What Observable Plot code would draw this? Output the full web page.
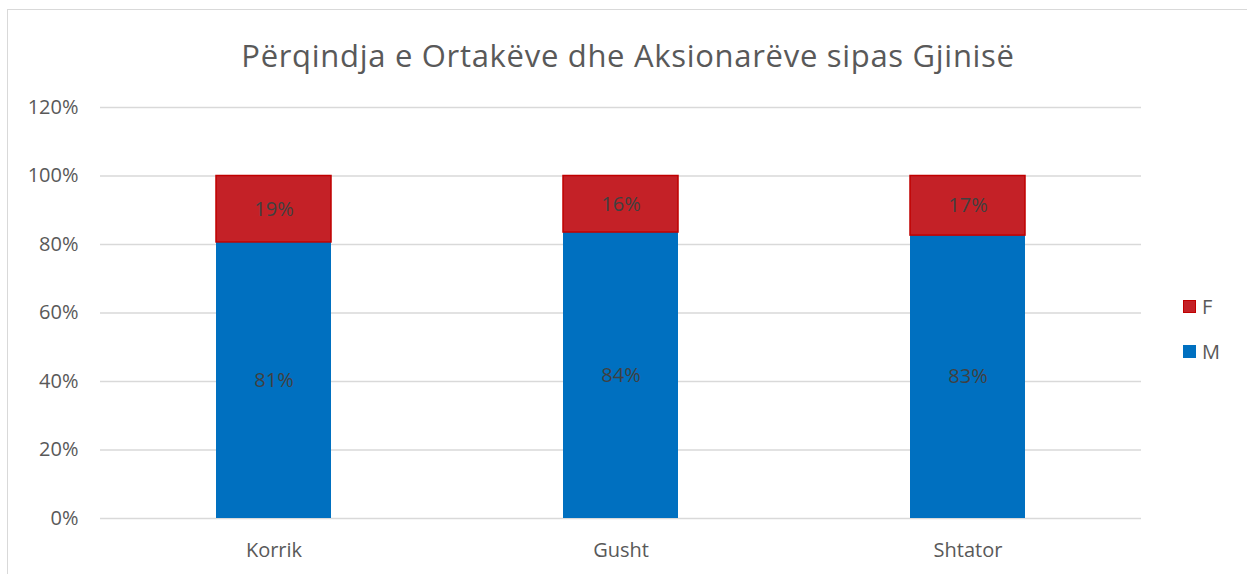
<!DOCTYPE html>
<html><head><meta charset="utf-8">
<script src="https://cdn.jsdelivr.net/npm/d3@7"></script>
<script src="https://cdn.jsdelivr.net/npm/@observablehq/plot@0.6"></script>
<style>
body{margin:0;background:#fff;font-family:"Open Sans",sans-serif;}
#wrap{position:relative;width:1247px;height:574px;overflow:hidden;}
#frame{position:absolute;left:7px;top:9px;width:1260px;height:600px;border:1.5px solid #d9d9d9;box-sizing:border-box;}
#title{position:absolute;left:0;width:1256px;top:34px;text-align:center;font-size:31px;letter-spacing:0.7px;color:#595959;}
#legend{position:absolute;left:1183px;top:284px;font-size:20px;color:#595959;}
#legend div{display:flex;align-items:center;height:45px;}
#legend span.sw{display:inline-block;width:13px;height:13px;margin-right:6px;box-sizing:border-box;}
#chart{position:absolute;left:0;top:0;}
</style></head>
<body>
<div id="wrap">
<div id="frame"></div>
<div id="chart"></div>
<div id="title">Përqindja e Ortakëve dhe Aksionarëve sipas Gjinisë</div>
<div id="legend"></div>
</div>
<script>
const months = ["Korrik", "Gusht", "Shtator"];
const mValues = [80.6, 83.5, 82.6];
const fValues = [19.4, 16.5, 17.4];
const mLabels = ["81%", "84%", "83%"];
const fLabels = ["19%", "16%", "17%"];
const yTicks = [0, 20, 40, 60, 80, 100, 120];
const seriesNames = ["F", "M"];
const colors = {M: "#0070C0", F: "#C42127"};

const segs = [];
months.forEach((m, i) => {
  segs.push({month: m, g: "M", y1: 0, y2: mValues[i], label: mLabels[i]});
  segs.push({month: m, g: "F", y1: mValues[i], y2: mValues[i] + fValues[i], label: fLabels[i]});
});

const chart = Plot.plot({
  width: 1247, height: 574,
  marginLeft: 100, marginRight: 106, marginTop: 107, marginBottom: 56,
  style: {fontFamily: "'Open Sans', sans-serif", fontSize: "20px", color: "#595959", background: "transparent"},
  x: {domain: months, paddingInner: 0.67, paddingOuter: 0.335, label: null, tickSize: 0, tickPadding: 24},
  y: {domain: [0, 120], ticks: yTicks, tickFormat: d => d + "%", label: null, tickSize: 0, tickPadding: 22},
  marks: [
    Plot.ruleY(yTicks, {stroke: "#d9d9d9", strokeWidth: 1.3}),
    Plot.rectY(segs, {x: "month", y1: "y1", y2: "y2", fill: d => colors[d.g], stroke: d => d.g === "F" ? "#C00000" : "none", strokeWidth: 1.5, inset: 0}),
    Plot.text(segs, {x: "month", y: d => (d.y1 + d.y2) / 2, text: "label", fill: "#404040", fontSize: 20})
  ]
});
document.getElementById("chart").appendChild(chart);

const lg = document.getElementById("legend");
seriesNames.forEach(s => {
  const d = document.createElement("div");
  const sw = document.createElement("span");
  sw.className = "sw";
  sw.style.background = colors[s];
  if (s === "F") sw.style.border = "1.5px solid #C00000";
  d.appendChild(sw);
  d.appendChild(document.createTextNode(s));
  lg.appendChild(d);
});
</script>
</body></html>
